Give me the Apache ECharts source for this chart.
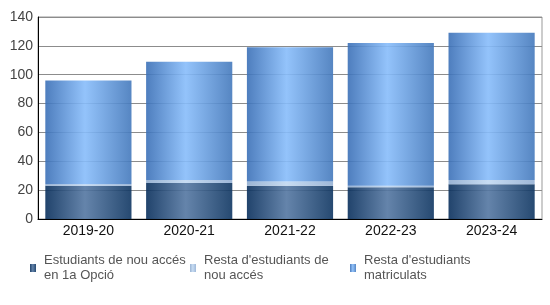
<!DOCTYPE html>
<html><head><meta charset="utf-8">
<script src="https://cdn.jsdelivr.net/npm/echarts@6/dist/echarts.min.js"></script>
<style>html,body{margin:0;padding:0;background:#fff}#c{width:550px;height:305px}</style>
</head><body><div id="c"></div>
<script>
const categories = ['2019-20', '2020-21', '2021-22', '2022-23', '2023-24'];
const seriesNames = ['Estudiants de nou accés en 1a Opció', "Resta d'estudiants de nou accés", "Resta d'estudiants matriculats"];
const legendLabels = ['Estudiants de nou accés\nen 1a Opció', "Resta d'estudiants de\nnou accés", "Resta d'estudiants\nmatriculats"];
const firstOption = [23, 25, 23, 22, 24];
const otherNewAccess = [1, 2, 3, 1, 3];
const otherEnrolled = [72, 82, 93, 99, 102];
const yTicks = [0, 20, 40, 60, 80, 100, 120, 140];

function grad(edgeL, mid, edgeR) {
  return new echarts.graphic.LinearGradient(0, 0, 1, 0, [
    {offset: 0, color: edgeL}, {offset: 0.46, color: mid}, {offset: 1, color: edgeR}
  ]);
}
const colors = [
  grad('#092f5c', '#5477a2', '#0f3662'),
  grad('#90accf', '#c2d9f2', '#94b0d4'),
  grad('#3b70b7', '#88bdfb', '#4479bc')
];
const values = [firstOption, otherNewAccess, otherEnrolled];
const font = 'Liberation Sans, Arial, sans-serif';

const chart = echarts.init(document.getElementById('c'), null, {renderer: 'canvas'});
chart.setOption({
  animation: false,
  grid: {left: 38, right: 8, top: 17, bottom: 86, show: true, borderColor: '#999', borderWidth: 1, backgroundColor: 'transparent'},
  legend: [0, 1, 2].map(i => ({
    data: [seriesNames[i]],
    left: 30 + i * 160, top: 253, padding: 0,
    itemWidth: 6, itemHeight: 8, itemGap: 0,
    icon: 'rect',
    selectedMode: false,
    formatter: () => legendLabels[i],
    textStyle: {fontFamily: font, fontSize: 13, color: '#555', lineHeight: 15, padding: [0, 0, 0, 3]}
  })),
  xAxis: {
    type: 'category', data: categories,
    axisLine: {show: true, lineStyle: {color: '#000', width: 1}},
    axisTick: {show: false},
    axisLabel: {fontFamily: font, fontSize: 14, color: '#111', margin: 5},
    z: 4
  },
  yAxis: {
    type: 'value', min: yTicks[0], max: yTicks[yTicks.length - 1], interval: 20,
    axisLine: {show: true, lineStyle: {color: '#000', width: 1}},
    axisTick: {show: false},
    axisLabel: {fontFamily: font, fontSize: 14, color: '#444', margin: 5},
    splitLine: {show: true, lineStyle: {color: '#8c8c8c', width: 1}}
  },
  series: values.map((v, i) => ({
    name: seriesNames[i], type: 'bar', stack: 'total', data: v,
    barCategoryGap: '14.5%',
    itemStyle: {color: colors[i], opacity: 0.9}
  }))
});
</script></body></html>
